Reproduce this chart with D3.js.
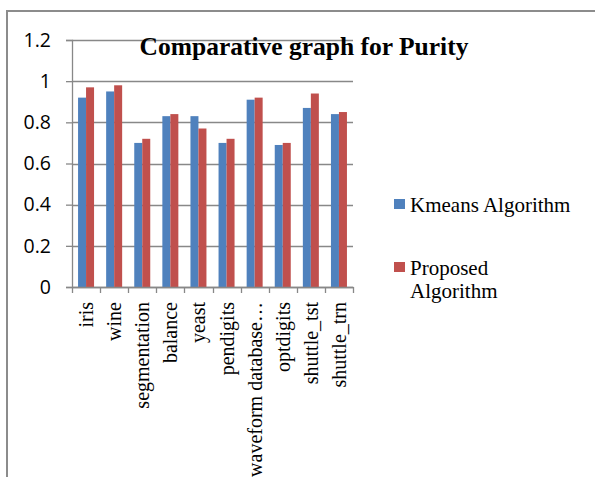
<!DOCTYPE html>
<html>
<head>
<meta charset="utf-8">
<script src="https://cdn.jsdelivr.net/npm/d3@7"></script>
<style>
  html, body { margin: 0; padding: 0; background: #fff; }
  svg { display: block; }
</style>
</head>
<body>
<svg id="chart" width="595" height="477"></svg>
<script>
// Purity per dataset for the two clustering methods
const categories = ["iris", "wine", "segmentation", "balance", "yeast", "pendigits",
  "waveform database…", "optdigits", "shuttle_tst", "shuttle_trn"];
const kmeansValues = [0.92, 0.95, 0.70, 0.83, 0.83, 0.70, 0.91, 0.69, 0.87, 0.84];
const proposedValues = [0.97, 0.98, 0.72, 0.84, 0.77, 0.72, 0.92, 0.70, 0.94, 0.85];
const seriesNames = ["Kmeans Algorithm", "Proposed Algorithm"];
const seriesColors = ["#4f81bd", "#c0504d"];
const yTicks = [0, 0.2, 0.4, 0.6, 0.8, 1, 1.2];
const titleText = "Comparative graph for Purity";

const svg = d3.select("#chart");
const gridColor = "#888888";
const serif = "'Liberation Serif', 'Times New Roman', serif";

// outer frame (top and left edges)
svg.append("path")
  .attr("d", "M7,477 V11 H595")
  .attr("fill", "none").attr("stroke", "#8c8c8c").attr("stroke-width", 2);

const plot = { left: 72, right: 353, top: 40, bottom: 287 };

const x = d3.scaleBand().domain(categories).range([plot.left, plot.right]).paddingInner(0).paddingOuter(0);
const y = d3.scaleLinear().domain([0, 1.2]).range([plot.bottom, plot.top]);
const barW = 8;

// horizontal gridlines
svg.append("g").selectAll("line").data(yTicks).join("line")
  .attr("x1", plot.left).attr("x2", plot.right)
  .attr("y1", d => Math.round(y(d)) + 0.5).attr("y2", d => Math.round(y(d)) + 0.5)
  .attr("stroke", gridColor).attr("stroke-width", 1.3);

// y axis
const yAxis = d3.axisLeft(y).tickValues(yTicks).tickSize(6).tickPadding(15)
  .tickFormat(d => d3.format("")(+d.toFixed(1)));
const gy = svg.append("g").attr("transform", `translate(${plot.left},0)`).call(yAxis);
gy.select(".domain").attr("stroke", gridColor).attr("stroke-width", 1.3);
gy.selectAll(".tick line").attr("stroke", gridColor).attr("stroke-width", 1.3);
gy.selectAll(".tick text")
  .attr("font-family", "'Open Sans', 'Liberation Sans', sans-serif")
  .attr("font-size", 19.5).attr("fill", "#000");

// bars
const series = [kmeansValues, proposedValues];
series.forEach((vals, si) => {
  svg.append("g").selectAll("rect").data(vals).join("rect")
    .attr("x", (d, i) => x(categories[i]) + x.bandwidth() / 2 - barW + si * barW)
    .attr("y", d => y(d))
    .attr("width", barW)
    .attr("height", d => y(0) - y(d))
    .attr("fill", seriesColors[si]);
});

// x axis
const xAxis = d3.axisBottom(x).tickSize(0).tickPadding(0).tickFormat("");
const gx = svg.append("g").attr("transform", `translate(0,${plot.bottom})`).call(xAxis);
gx.select(".domain").attr("stroke", gridColor).attr("stroke-width", 1.3);
// boundary tick marks between categories
const bounds = categories.map(c => x(c)).concat([plot.right]);
svg.append("g").selectAll("line").data(bounds).join("line")
  .attr("x1", d => Math.round(d) + 0.5).attr("x2", d => Math.round(d) + 0.5)
  .attr("y1", plot.bottom).attr("y2", plot.bottom + 6)
  .attr("stroke", gridColor).attr("stroke-width", 1.3);

// rotated category labels
svg.append("g").selectAll("text").data(categories).join("text")
  .attr("transform", d => `translate(${x(d) + x.bandwidth() / 2 + 7},${plot.bottom + 15}) rotate(-90)`)
  .attr("text-anchor", "end")
  .attr("font-family", serif)
  .attr("font-size", 20).attr("fill", "#000")
  .text(d => d);

// title
svg.append("text")
  .attr("x", 304).attr("y", 55)
  .attr("text-anchor", "middle")
  .attr("font-family", serif)
  .attr("font-weight", "bold").attr("font-size", 25.5).attr("fill", "#000")
  .text(titleText);

// legend
const legend = svg.append("g");
const legendRows = [
  { y: 199, lines: ["Kmeans Algorithm"] },
  { y: 262, lines: ["Proposed", "Algorithm"] }
];
legendRows.forEach((row, i) => {
  legend.append("rect").attr("x", 394).attr("y", row.y).attr("width", 11).attr("height", 10)
    .attr("fill", seriesColors[i]);
  const t = legend.append("text")
    .attr("font-family", serif)
    .attr("font-size", 21).attr("fill", "#000");
  row.lines.forEach((ln, j) => {
    t.append("tspan").attr("x", 410).attr("y", row.y + 13 + j * 23).text(ln);
  });
});
</script>
</body>
</html>
